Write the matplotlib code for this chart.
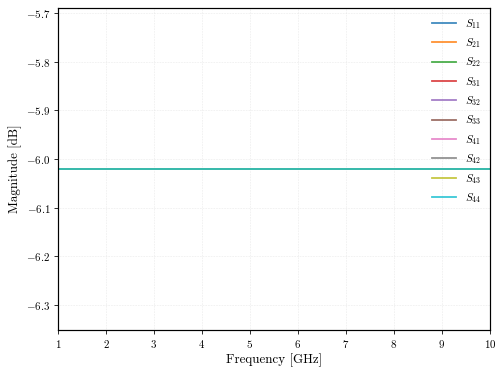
import numpy as np
import matplotlib
matplotlib.use("Agg")
import matplotlib.pyplot as plt

plt.rcParams.update({
    "font.family": "serif",
    "font.serif": ["cmr10", "DejaVu Serif"],
    "mathtext.fontset": "cm",
    "axes.formatter.use_mathtext": True,
    "axes.unicode_minus": True,
})

freq_ghz = [1, 2, 3, 4, 5, 6, 7, 8, 9, 10]
labels = ["11", "21", "22", "31", "32", "33", "41", "42", "43", "44"]
magnitude_db = -6.0206
series = {lab: [magnitude_db] * len(freq_ghz) for lab in labels}

fig, ax = plt.subplots(figsize=(7, 376 / 72), dpi=72)
fig.subplots_adjust(left=0.115, right=0.972, top=0.979, bottom=0.122)

colors = plt.rcParams["axes.prop_cycle"].by_key()["color"]
for i, lab in enumerate(labels):
    ax.plot(freq_ghz, series[lab], color=colors[i % len(colors)], lw=1.8, alpha=0.85,
            label=r"$S_{%s}$" % lab)

ax.set_xlim(1, 10)
ax.set_xlabel("Frequency [GHz]", fontsize=13)
ax.set_ylabel("Magnitude [dB]", fontsize=13)
ax.grid(True, ls=":", lw=0.6, color="#dddddd")
for s in ax.spines.values():
    s.set_linewidth(1.2)
ax.tick_params(labelsize=11, length=4)
ax.legend(loc="upper right", frameon=False, fontsize=11, labelspacing=0.5,
          handlelength=2.2, borderaxespad=0.4)

fig.savefig("out.png", dpi=72)
